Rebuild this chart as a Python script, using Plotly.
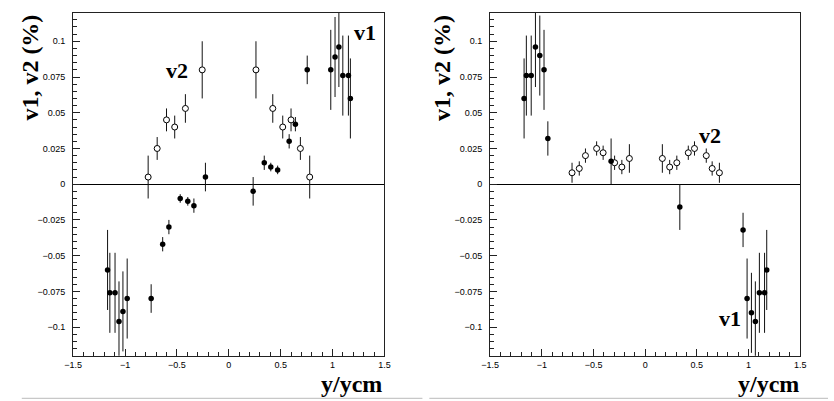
import plotly.graph_objects as go

# ---- flow coefficients vs normalised rapidity ----
# left panel
left_v1_y = [-1.168, -1.146, -1.096, -1.058, -1.020, -0.979, -0.748, -0.637, -0.577,
             -0.468, -0.395, -0.336, -0.225, 0.235, 0.342, 0.405, 0.471, 0.582,
             0.642, 0.756, 0.983, 1.024, 1.061, 1.099, 1.153, 1.172]
left_v1 = [-0.060, -0.076, -0.076, -0.096, -0.089, -0.080, -0.080, -0.042, -0.030,
           -0.010, -0.012, -0.015, 0.005, -0.005, 0.015, 0.012, 0.010, 0.030,
           0.042, 0.080, 0.080, 0.089, 0.096, 0.076, 0.076, 0.060]
left_v1_err = [0.028, 0.028, 0.028, 0.028, 0.028, 0.028, 0.010, 0.005, 0.005,
               0.003, 0.003, 0.005, 0.010, 0.010, 0.005, 0.003, 0.003, 0.005,
               0.005, 0.010, 0.028, 0.028, 0.028, 0.028, 0.028, 0.028]

left_v2_y = [-0.777, -0.690, -0.600, -0.521, -0.418, -0.256,
             0.262, 0.424, 0.520, 0.600, 0.690, 0.780]
left_v2 = [0.005, 0.025, 0.045, 0.040, 0.053, 0.080,
           0.080, 0.053, 0.040, 0.045, 0.025, 0.005]
left_v2_err = [0.015, 0.008, 0.008, 0.008, 0.010, 0.020,
               0.020, 0.010, 0.008, 0.008, 0.008, 0.015]

# right panel
right_v1_y = [-1.172, -1.150, -1.103, -1.062, -1.020, -0.979, -0.942, -0.330,
              0.335, 0.947, 0.986, 1.028, 1.066, 1.105, 1.155, 1.176]
right_v1 = [0.060, 0.076, 0.076, 0.096, 0.090, 0.080, 0.032, 0.016,
            -0.016, -0.032, -0.080, -0.090, -0.096, -0.076, -0.076, -0.060]
right_v1_err = [0.028, 0.028, 0.028, 0.028, 0.028, 0.028, 0.012, 0.016,
                0.016, 0.012, 0.028, 0.028, 0.028, 0.028, 0.028, 0.028]

right_v2_y = [-0.708, -0.638, -0.578, -0.470, -0.407, -0.296, -0.226, -0.153,
              0.166, 0.237, 0.306, 0.417, 0.477, 0.591, 0.648, 0.718]
right_v2 = [0.008, 0.011, 0.020, 0.025, 0.022, 0.015, 0.012, 0.018,
            0.018, 0.012, 0.015, 0.022, 0.025, 0.020, 0.011, 0.008]
right_v2_err = [0.007, 0.005, 0.005, 0.005, 0.005, 0.005, 0.005, 0.010,
                0.010, 0.005, 0.005, 0.005, 0.005, 0.005, 0.005, 0.007]

x_range = [-1.5, 1.5]
y_range = [-0.12, 0.12]

W, H = 834, 401
SERIF = "Liberation Serif, Times New Roman, serif"
SANS = "Liberation Sans, Arial, sans-serif"


def px(x):
    return x / W


def py(y):
    return 1 - y / H


fig = go.Figure()


def add_panel(xa, ya, v1x, v1, v1e, v2x, v2, v2e):
    fig.add_trace(go.Scatter(
        x=v2x, y=v2, mode="markers", xaxis=xa, yaxis=ya, showlegend=False,
        marker=dict(symbol="circle", size=6, color="white",
                    line=dict(color="black", width=1)),
        error_y=dict(type="data", array=v2e, visible=True, width=0,
                     thickness=1, color="#111"),
    ))
    fig.add_trace(go.Scatter(
        x=v1x, y=v1, mode="markers", xaxis=xa, yaxis=ya, showlegend=False,
        marker=dict(symbol="circle", size=5.5, color="black",
                    line=dict(width=0)),
        error_y=dict(type="data", array=v1e, visible=True, width=0,
                     thickness=1, color="#111"),
    ))


add_panel("x", "y", left_v1_y, left_v1, left_v1_err, left_v2_y, left_v2, left_v2_err)
add_panel("x2", "y2", right_v1_y, right_v1, right_v1_err, right_v2_y, right_v2, right_v2_err)

xaxis_style = dict(
    range=x_range, tick0=-1.5, dtick=0.5, showline=True, linecolor="#222",
    linewidth=1, mirror=True, ticks="inside", ticklen=7, tickwidth=1,
    tickcolor="#222", showgrid=False, zeroline=False,
    tickfont=dict(family=SANS, size=9, color="black"),
    minor=dict(dtick=0.1, ticks="inside", ticklen=3.5, tickcolor="#222",
               tickwidth=1, showgrid=False),
)
yaxis_style = dict(
    range=y_range, tick0=0, dtick=0.025, showline=True, linecolor="#222",
    linewidth=1, mirror=True, ticks="inside", ticklen=7, tickwidth=1,
    tickcolor="#222", showgrid=False, zeroline=True, zerolinecolor="black",
    zerolinewidth=1, ticklabelstandoff=5,
    tickfont=dict(family=SANS, size=9, color="black"),
    minor=dict(dtick=0.005, ticks="inside", ticklen=3.5, tickcolor="#222",
               tickwidth=1, showgrid=False),
)

y_dom = [py(355.7), py(12.7)]
fig.update_layout(
    width=W, height=H, margin=dict(l=0, r=0, t=0, b=0),
    paper_bgcolor="white", plot_bgcolor="white",
    xaxis=dict(domain=[px(65.3), px(382.3)], anchor="y", **xaxis_style),
    yaxis=dict(domain=y_dom, anchor="x", **yaxis_style),
    xaxis2=dict(domain=[px(490), px(805.7)], anchor="y2", **xaxis_style),
    yaxis2=dict(domain=y_dom, anchor="x2", **yaxis_style),
)

title_font = dict(family=SERIF, size=24, color="black", weight="bold")
label_font = dict(family=SERIF, size=22, color="black", weight="bold")

annotations = []
for cx in (21, 441):
    annotations.append(dict(text="v1, v2 (%)", x=px(cx), y=py(68), xref="paper",
                            yref="paper", textangle=-90, showarrow=False,
                            font=title_font, xanchor="center", yanchor="middle"))
for rx in (382, 806):
    annotations.append(dict(text="y/ycm", x=px(rx), y=py(384), xref="paper",
                            yref="paper", showarrow=False, font=title_font,
                            xanchor="right", yanchor="middle"))
for txt, cx, cy in (("v2", 171, 70), ("v1", 363, 32), ("v2", 714, 135), ("v1", 734, 318)):
    annotations.append(dict(text=txt, x=px(cx), y=py(cy), xref="paper", yref="paper",
                            showarrow=False, font=label_font,
                            xanchor="center", yanchor="middle"))
fig.update_layout(annotations=annotations)

# thin page rules at the bottom of each panel
for x0, x1 in ((13, 421), (428, 834)):
    fig.add_shape(type="line", xref="paper", yref="paper", x0=px(x0), x1=px(x1),
                  y0=py(398.3), y1=py(398.3), line=dict(color="#bbbbbb", width=1))

fig.write_html("out.html")
